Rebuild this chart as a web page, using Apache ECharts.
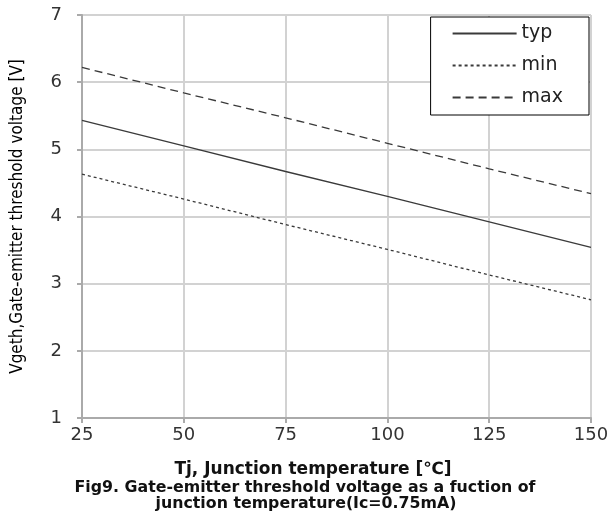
<!DOCTYPE html>
<html><head><meta charset="utf-8">
<script src="https://cdn.jsdelivr.net/npm/echarts@6/dist/echarts.min.js"></script>
<style>html,body{margin:0;padding:0;background:#fff}#c{width:611px;height:517px}</style>
</head><body><div id="c"></div>
<script>
const temps = [25, 50, 75, 100, 125, 150];
const typVals = [5.43, 5.05, 4.67, 4.30, 3.92, 3.54];
const minVals = [4.63, 4.26, 3.88, 3.51, 3.13, 2.76];
const maxVals = [6.22, 5.84, 5.47, 5.09, 4.71, 4.34];
const xTicks = [25, 50, 75, 100, 125, 150];
const yTicks = [1, 2, 3, 4, 5, 6, 7];

const pair = v => temps.map((t, i) => [t, v[i]]);
const chart = echarts.init(document.getElementById('c'));
const lc = '#3a3a3a';
chart.setOption({
  animation: false,
  grid: {left: 82, right: 20, top: 15, bottom: 99, containLabel: false, outerBoundsMode: 'none'},
  legend: {
    right: 22, top: 17, orient: 'vertical',
    backgroundColor: '#fff', borderColor: '#000', borderWidth: 1,
    padding: [7, 26, 8, 21], itemGap: 13, itemWidth: 64, itemHeight: 20,
    itemStyle: {opacity: 0},
    textStyle: {fontFamily: 'DejaVu Sans', fontSize: 19, color: '#222'},
    data: ['typ', 'min', 'max']
  },
  xAxis: {
    type: 'value', min: 25, max: 150, interval: 25,
    axisLine: {show: true, lineStyle: {color: '#aaa', width: 2}},
    axisTick: {show: true, length: 5, lineStyle: {color: '#aaa', width: 2}},
    axisLabel: {fontFamily: 'DejaVu Sans', fontSize: 18, color: '#333', margin: 8},
    splitLine: {show: true, lineStyle: {color: '#d2d2d2', width: 2}}
  },
  yAxis: {
    type: 'value', min: 1, max: 7, interval: 1,
    axisLine: {show: true, lineStyle: {color: '#aaa', width: 2}},
    axisTick: {show: true, length: 5, lineStyle: {color: '#aaa', width: 2}},
    axisLabel: {fontFamily: 'DejaVu Sans', fontSize: 18, color: '#333', margin: 20},
    splitLine: {show: true, lineStyle: {color: '#d2d2d2', width: 2}},
    name: 'Vgeth,Gate-emitter threshold voltage [V]', nameLocation: 'middle', nameGap: 56,
    nameTextStyle: {fontFamily: '"DejaVu Sans Condensed", "Liberation Sans Narrow", sans-serif', fontSize: 17, color: '#000'}
  },
  graphic: [{
    type: 'text', x: 313, y: 470,
    style: {text: 'Tj, Junction temperature [℃]',
      align: 'center', verticalAlign: 'middle',
      font: 'bold 17px "DejaVu Sans"', fill: '#111'}
  }, {
    type: 'text', x: 305, y: 488,
    style: {text: 'Fig9. Gate-emitter threshold voltage as a fuction of',
      align: 'center', verticalAlign: 'middle',
      font: 'bold 15.8px "DejaVu Sans"', fill: '#111'}
  }, {
    type: 'text', x: 306, y: 504,
    style: {text: 'junction temperature(Ic=0.75mA)',
      align: 'center', verticalAlign: 'middle',
      font: 'bold 15.8px "DejaVu Sans"', fill: '#111'}
  }],
  series: [
    {name: 'typ', type: 'line', symbol: 'none', data: pair(typVals), lineStyle: {color: lc, width: 1.3, type: 'solid'}, itemStyle: {color: lc}},
    {name: 'min', type: 'line', symbol: 'none', data: pair(minVals), lineStyle: {color: lc, width: 1.3, type: [3, 3]}, itemStyle: {color: lc}},
    {name: 'max', type: 'line', symbol: 'none', data: pair(maxVals), lineStyle: {color: lc, width: 1.3, type: [8, 5]}, itemStyle: {color: lc}}
  ]
});
</script></body></html>
